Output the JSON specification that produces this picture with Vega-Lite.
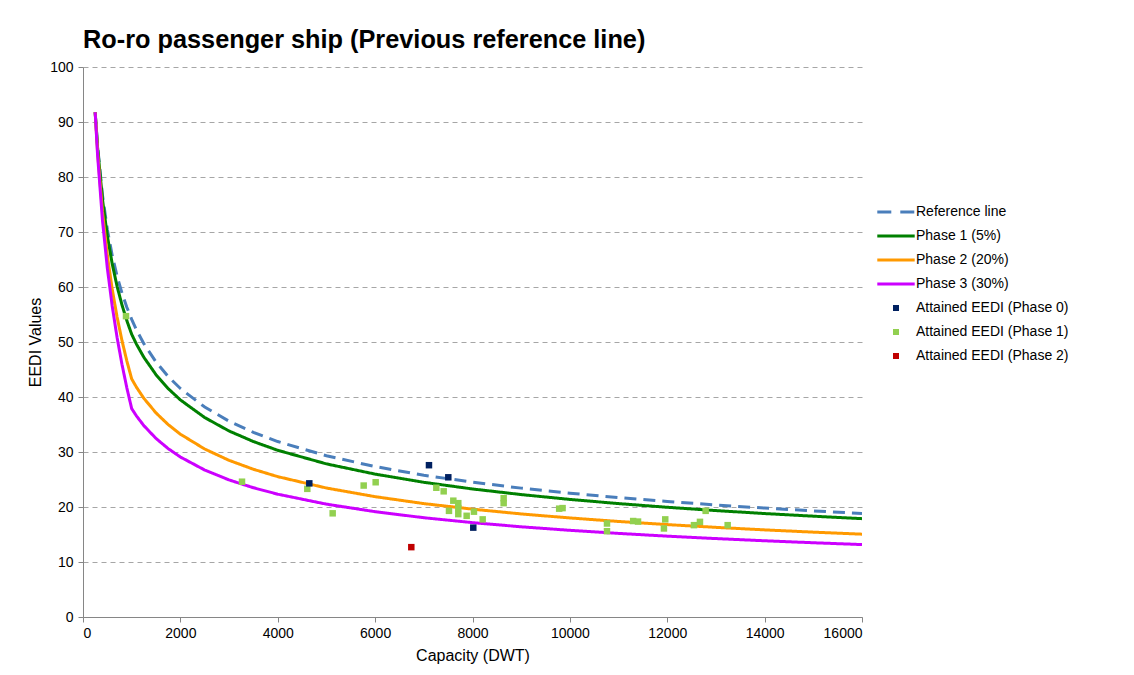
{
  "$schema": "https://vega.github.io/schema/vega-lite/v6.json",
  "width": 779,
  "height": 550,
  "autosize": {"type": "none"},
  "padding": {"left": 83, "top": 67, "right": 272, "bottom": 58},
  "background": "white",
  "title": {
    "text": "Ro-ro passenger ship (Previous reference line)",
    "anchor": "start",
    "frame": "group",
    "font": "Liberation Sans",
    "fontSize": 25.3,
    "fontWeight": "bold",
    "color": "#000000",
    "offset": 7
  },
  "datasets": {
    "lines": [
      {"dwt": 250, "value": 91.77, "series": "Reference line"},
      {"dwt": 300, "value": 85.62, "series": "Reference line"},
      {"dwt": 400, "value": 76.71, "series": "Reference line"},
      {"dwt": 500, "value": 70.46, "series": "Reference line"},
      {"dwt": 600, "value": 65.74, "series": "Reference line"},
      {"dwt": 700, "value": 61.98, "series": "Reference line"},
      {"dwt": 800, "value": 58.92, "series": "Reference line"},
      {"dwt": 900, "value": 56.33, "series": "Reference line"},
      {"dwt": 1000, "value": 54.11, "series": "Reference line"},
      {"dwt": 1100, "value": 52.18, "series": "Reference line"},
      {"dwt": 1250, "value": 49.70, "series": "Reference line"},
      {"dwt": 1500, "value": 46.37, "series": "Reference line"},
      {"dwt": 1750, "value": 43.72, "series": "Reference line"},
      {"dwt": 2000, "value": 41.55, "series": "Reference line"},
      {"dwt": 2500, "value": 38.17, "series": "Reference line"},
      {"dwt": 3000, "value": 35.60, "series": "Reference line"},
      {"dwt": 3500, "value": 33.58, "series": "Reference line"},
      {"dwt": 4000, "value": 31.90, "series": "Reference line"},
      {"dwt": 5000, "value": 29.31, "series": "Reference line"},
      {"dwt": 6000, "value": 27.35, "series": "Reference line"},
      {"dwt": 7000, "value": 25.78, "series": "Reference line"},
      {"dwt": 8000, "value": 24.51, "series": "Reference line"},
      {"dwt": 9000, "value": 23.43, "series": "Reference line"},
      {"dwt": 10000, "value": 22.51, "series": "Reference line"},
      {"dwt": 11000, "value": 21.71, "series": "Reference line"},
      {"dwt": 12000, "value": 21.00, "series": "Reference line"},
      {"dwt": 13000, "value": 20.37, "series": "Reference line"},
      {"dwt": 14000, "value": 19.80, "series": "Reference line"},
      {"dwt": 15000, "value": 19.29, "series": "Reference line"},
      {"dwt": 16000, "value": 18.82, "series": "Reference line"},

      {"dwt": 250, "value": 91.77, "series": "Phase 1 (5%)"},
      {"dwt": 300, "value": 85.33, "series": "Phase 1 (5%)"},
      {"dwt": 400, "value": 75.94, "series": "Phase 1 (5%)"},
      {"dwt": 500, "value": 69.28, "series": "Phase 1 (5%)"},
      {"dwt": 600, "value": 64.21, "series": "Phase 1 (5%)"},
      {"dwt": 700, "value": 60.12, "series": "Phase 1 (5%)"},
      {"dwt": 800, "value": 56.76, "series": "Phase 1 (5%)"},
      {"dwt": 900, "value": 53.89, "series": "Phase 1 (5%)"},
      {"dwt": 1000, "value": 51.40, "series": "Phase 1 (5%)"},
      {"dwt": 1100, "value": 49.57, "series": "Phase 1 (5%)"},
      {"dwt": 1250, "value": 47.22, "series": "Phase 1 (5%)"},
      {"dwt": 1500, "value": 44.05, "series": "Phase 1 (5%)"},
      {"dwt": 1750, "value": 41.53, "series": "Phase 1 (5%)"},
      {"dwt": 2000, "value": 39.47, "series": "Phase 1 (5%)"},
      {"dwt": 2500, "value": 36.26, "series": "Phase 1 (5%)"},
      {"dwt": 3000, "value": 33.82, "series": "Phase 1 (5%)"},
      {"dwt": 3500, "value": 31.90, "series": "Phase 1 (5%)"},
      {"dwt": 4000, "value": 30.31, "series": "Phase 1 (5%)"},
      {"dwt": 5000, "value": 27.84, "series": "Phase 1 (5%)"},
      {"dwt": 6000, "value": 25.98, "series": "Phase 1 (5%)"},
      {"dwt": 7000, "value": 24.49, "series": "Phase 1 (5%)"},
      {"dwt": 8000, "value": 23.28, "series": "Phase 1 (5%)"},
      {"dwt": 9000, "value": 22.26, "series": "Phase 1 (5%)"},
      {"dwt": 10000, "value": 21.38, "series": "Phase 1 (5%)"},
      {"dwt": 11000, "value": 20.62, "series": "Phase 1 (5%)"},
      {"dwt": 12000, "value": 19.95, "series": "Phase 1 (5%)"},
      {"dwt": 13000, "value": 19.35, "series": "Phase 1 (5%)"},
      {"dwt": 14000, "value": 18.81, "series": "Phase 1 (5%)"},
      {"dwt": 15000, "value": 18.33, "series": "Phase 1 (5%)"},
      {"dwt": 16000, "value": 17.88, "series": "Phase 1 (5%)"},

      {"dwt": 250, "value": 91.77, "series": "Phase 2 (20%)"},
      {"dwt": 300, "value": 84.48, "series": "Phase 2 (20%)"},
      {"dwt": 400, "value": 73.64, "series": "Phase 2 (20%)"},
      {"dwt": 500, "value": 65.76, "series": "Phase 2 (20%)"},
      {"dwt": 600, "value": 59.60, "series": "Phase 2 (20%)"},
      {"dwt": 700, "value": 54.54, "series": "Phase 2 (20%)"},
      {"dwt": 800, "value": 50.28, "series": "Phase 2 (20%)"},
      {"dwt": 900, "value": 46.57, "series": "Phase 2 (20%)"},
      {"dwt": 1000, "value": 43.29, "series": "Phase 2 (20%)"},
      {"dwt": 1100, "value": 41.75, "series": "Phase 2 (20%)"},
      {"dwt": 1250, "value": 39.76, "series": "Phase 2 (20%)"},
      {"dwt": 1500, "value": 37.10, "series": "Phase 2 (20%)"},
      {"dwt": 1750, "value": 34.98, "series": "Phase 2 (20%)"},
      {"dwt": 2000, "value": 33.24, "series": "Phase 2 (20%)"},
      {"dwt": 2500, "value": 30.54, "series": "Phase 2 (20%)"},
      {"dwt": 3000, "value": 28.48, "series": "Phase 2 (20%)"},
      {"dwt": 3500, "value": 26.86, "series": "Phase 2 (20%)"},
      {"dwt": 4000, "value": 25.52, "series": "Phase 2 (20%)"},
      {"dwt": 5000, "value": 23.45, "series": "Phase 2 (20%)"},
      {"dwt": 6000, "value": 21.88, "series": "Phase 2 (20%)"},
      {"dwt": 7000, "value": 20.62, "series": "Phase 2 (20%)"},
      {"dwt": 8000, "value": 19.61, "series": "Phase 2 (20%)"},
      {"dwt": 9000, "value": 18.74, "series": "Phase 2 (20%)"},
      {"dwt": 10000, "value": 18.01, "series": "Phase 2 (20%)"},
      {"dwt": 11000, "value": 17.37, "series": "Phase 2 (20%)"},
      {"dwt": 12000, "value": 16.80, "series": "Phase 2 (20%)"},
      {"dwt": 13000, "value": 16.30, "series": "Phase 2 (20%)"},
      {"dwt": 14000, "value": 15.84, "series": "Phase 2 (20%)"},
      {"dwt": 15000, "value": 15.43, "series": "Phase 2 (20%)"},
      {"dwt": 16000, "value": 15.06, "series": "Phase 2 (20%)"},

      {"dwt": 250, "value": 91.77, "series": "Phase 3 (30%)"},
      {"dwt": 300, "value": 83.91, "series": "Phase 3 (30%)"},
      {"dwt": 400, "value": 72.11, "series": "Phase 3 (30%)"},
      {"dwt": 500, "value": 63.41, "series": "Phase 3 (30%)"},
      {"dwt": 600, "value": 56.54, "series": "Phase 3 (30%)"},
      {"dwt": 700, "value": 50.82, "series": "Phase 3 (30%)"},
      {"dwt": 800, "value": 45.96, "series": "Phase 3 (30%)"},
      {"dwt": 900, "value": 41.68, "series": "Phase 3 (30%)"},
      {"dwt": 1000, "value": 37.88, "series": "Phase 3 (30%)"},
      {"dwt": 1100, "value": 36.53, "series": "Phase 3 (30%)"},
      {"dwt": 1250, "value": 34.79, "series": "Phase 3 (30%)"},
      {"dwt": 1500, "value": 32.46, "series": "Phase 3 (30%)"},
      {"dwt": 1750, "value": 30.61, "series": "Phase 3 (30%)"},
      {"dwt": 2000, "value": 29.09, "series": "Phase 3 (30%)"},
      {"dwt": 2500, "value": 26.72, "series": "Phase 3 (30%)"},
      {"dwt": 3000, "value": 24.92, "series": "Phase 3 (30%)"},
      {"dwt": 3500, "value": 23.50, "series": "Phase 3 (30%)"},
      {"dwt": 4000, "value": 22.33, "series": "Phase 3 (30%)"},
      {"dwt": 5000, "value": 20.52, "series": "Phase 3 (30%)"},
      {"dwt": 6000, "value": 19.15, "series": "Phase 3 (30%)"},
      {"dwt": 7000, "value": 18.05, "series": "Phase 3 (30%)"},
      {"dwt": 8000, "value": 17.16, "series": "Phase 3 (30%)"},
      {"dwt": 9000, "value": 16.40, "series": "Phase 3 (30%)"},
      {"dwt": 10000, "value": 15.76, "series": "Phase 3 (30%)"},
      {"dwt": 11000, "value": 15.20, "series": "Phase 3 (30%)"},
      {"dwt": 12000, "value": 14.70, "series": "Phase 3 (30%)"},
      {"dwt": 13000, "value": 14.26, "series": "Phase 3 (30%)"},
      {"dwt": 14000, "value": 13.86, "series": "Phase 3 (30%)"},
      {"dwt": 15000, "value": 13.50, "series": "Phase 3 (30%)"},
      {"dwt": 16000, "value": 13.17, "series": "Phase 3 (30%)"}
    ],
    "points": [
      {"dwt": 883, "eedi": 54.7, "series": "Attained EEDI (Phase 1)"},
      {"dwt": 3266, "eedi": 24.6, "series": "Attained EEDI (Phase 1)"},
      {"dwt": 4607, "eedi": 23.3, "series": "Attained EEDI (Phase 1)"},
      {"dwt": 5128, "eedi": 18.85, "series": "Attained EEDI (Phase 1)"},
      {"dwt": 5765, "eedi": 23.9, "series": "Attained EEDI (Phase 1)"},
      {"dwt": 6011, "eedi": 24.5, "series": "Attained EEDI (Phase 1)"},
      {"dwt": 7257, "eedi": 23.5, "series": "Attained EEDI (Phase 1)"},
      {"dwt": 7408, "eedi": 22.85, "series": "Attained EEDI (Phase 1)"},
      {"dwt": 7606, "eedi": 21.15, "series": "Attained EEDI (Phase 1)"},
      {"dwt": 7708, "eedi": 20.7, "series": "Attained EEDI (Phase 1)"},
      {"dwt": 7708, "eedi": 19.8, "series": "Attained EEDI (Phase 1)"},
      {"dwt": 7708, "eedi": 18.7, "series": "Attained EEDI (Phase 1)"},
      {"dwt": 7517, "eedi": 19.3, "series": "Attained EEDI (Phase 1)"},
      {"dwt": 7880, "eedi": 18.4, "series": "Attained EEDI (Phase 1)"},
      {"dwt": 8030, "eedi": 19.15, "series": "Attained EEDI (Phase 1)"},
      {"dwt": 8209, "eedi": 17.75, "series": "Attained EEDI (Phase 1)"},
      {"dwt": 8640, "eedi": 21.6, "series": "Attained EEDI (Phase 1)"},
      {"dwt": 8640, "eedi": 20.7, "series": "Attained EEDI (Phase 1)"},
      {"dwt": 9780, "eedi": 19.7, "series": "Attained EEDI (Phase 1)"},
      {"dwt": 9850, "eedi": 19.8, "series": "Attained EEDI (Phase 1)"},
      {"dwt": 10762, "eedi": 17.0, "series": "Attained EEDI (Phase 1)"},
      {"dwt": 10762, "eedi": 15.6, "series": "Attained EEDI (Phase 1)"},
      {"dwt": 11300, "eedi": 17.45, "series": "Attained EEDI (Phase 1)"},
      {"dwt": 11400, "eedi": 17.35, "series": "Attained EEDI (Phase 1)"},
      {"dwt": 11959, "eedi": 17.75, "series": "Attained EEDI (Phase 1)"},
      {"dwt": 11932, "eedi": 16.1, "series": "Attained EEDI (Phase 1)"},
      {"dwt": 12549, "eedi": 16.7, "series": "Attained EEDI (Phase 1)"},
      {"dwt": 12672, "eedi": 17.3, "series": "Attained EEDI (Phase 1)"},
      {"dwt": 12789, "eedi": 19.3, "series": "Attained EEDI (Phase 1)"},
      {"dwt": 13241, "eedi": 16.7, "series": "Attained EEDI (Phase 1)"},
      {"dwt": 4648, "eedi": 24.3, "series": "Attained EEDI (Phase 0)"},
      {"dwt": 7106, "eedi": 27.6, "series": "Attained EEDI (Phase 0)"},
      {"dwt": 7503, "eedi": 25.4, "series": "Attained EEDI (Phase 0)"},
      {"dwt": 8016, "eedi": 16.25, "series": "Attained EEDI (Phase 0)"},
      {"dwt": 6743, "eedi": 12.7, "series": "Attained EEDI (Phase 2)"}
    ]
  },
  "layer": [
    {
      "data": {"name": "lines"},
      "mark": {"type": "line", "strokeWidth": 3, "interpolate": "linear", "clip": true},
      "encoding": {
        "x": {
          "field": "dwt", "type": "quantitative",
          "scale": {"domain": [0, 16000], "nice": false},
          "axis": {"values": [0,2000,4000,6000,8000,10000,12000,14000,16000], "title": "Capacity (DWT)", "grid": false, "format": "d"}
        },
        "y": {
          "field": "value", "type": "quantitative",
          "scale": {"domain": [0, 100], "nice": false},
          "axis": {"values": [0,10,20,30,40,50,60,70,80,90,100], "title": "EEDI Values", "grid": true}
        },
        "color": {
          "field": "series", "type": "nominal",
          "scale": {
            "domain": ["Reference line", "Phase 1 (5%)", "Phase 2 (20%)", "Phase 3 (30%)", "Attained EEDI (Phase 0)", "Attained EEDI (Phase 1)", "Attained EEDI (Phase 2)"],
            "range": ["#4A7EBB", "#008000", "#FF9900", "#CC00FF", "#002060", "#92D050", "#C00000"]
          },
          "legend": {
            "title": null, "orient": "none", "legendX": 806, "legendY": 138,
            "symbolType": "square", "symbolSize": 36,
            "labelFont": "Liberation Sans", "labelFontSize": 14, "labelColor": "#000000",
            "rowPadding": 10, "labelOffset": 13,
            "encode": {
              "symbols": {
                "update": {
                  "shape": {"signal": "datum.value == 'Reference line' || datum.value == 'Phase 1 (5%)' || datum.value == 'Phase 2 (20%)' || datum.value == 'Phase 3 (30%)' ? 'stroke' : 'square'"},
                  "size": {"signal": "datum.value == 'Reference line' || datum.value == 'Phase 1 (5%)' || datum.value == 'Phase 2 (20%)' || datum.value == 'Phase 3 (30%)' ? 1400 : 36"},
                  "strokeWidth": {"signal": "datum.value == 'Reference line' || datum.value == 'Phase 1 (5%)' || datum.value == 'Phase 2 (20%)' || datum.value == 'Phase 3 (30%)' ? 3 : 0"},
                  "stroke": {"scale": "color", "field": "value"},
                  "fill": {"scale": "color", "field": "value"},
                  "fillOpacity": {"signal": "datum.value == 'Reference line' || datum.value == 'Phase 1 (5%)' || datum.value == 'Phase 2 (20%)' || datum.value == 'Phase 3 (30%)' ? 0 : 1"},
                  "strokeDash": {"signal": "datum.value == 'Reference line' ? [14, 9] : [1, 0]"},
                  "opacity": {"value": 1}
                }
              }
            }
          }
        },
        "strokeDash": {
          "field": "series", "type": "nominal",
          "scale": {
            "domain": ["Reference line", "Phase 1 (5%)", "Phase 2 (20%)", "Phase 3 (30%)"],
            "range": [[12, 7], [1, 0], [1, 0], [1, 0]]
          },
          "legend": null
        }
      }
    },
    {
      "data": {"name": "points"},
      "mark": {"type": "point", "shape": "square", "filled": true, "opacity": 1, "size": 42},
      "encoding": {
        "x": {"field": "dwt", "type": "quantitative"},
        "y": {"field": "eedi", "type": "quantitative"},
        "color": {"field": "series", "type": "nominal"}
      }
    }
  ],
  "config": {
    "view": {"stroke": null},
    "axis": {
      "labelFont": "Liberation Sans",
      "labelFontSize": 14,
      "labelColor": "#000000",
      "titleFont": "Liberation Sans",
      "titleFontSize": 16,
      "titleFontWeight": "normal",
      "titleColor": "#000000",
      "domainColor": "#868686",
      "tickColor": "#868686",
      "tickSize": 5,
      "labelPadding": 4,
      "gridColor": "#A6A6A6",
      "gridDash": [5, 4],
      "gridWidth": 1
    },
    "axisY": {"titlePadding": 6, "labelPadding": 5},
    "axisX": {"titlePadding": 7}
  }
}
